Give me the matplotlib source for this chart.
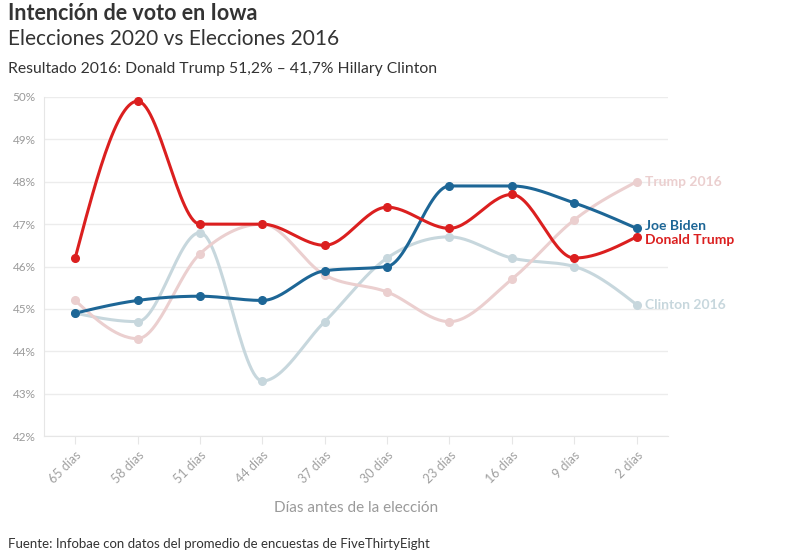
import numpy as np
import matplotlib
matplotlib.use("Agg")
import matplotlib.pyplot as plt

plt.rcParams['font.family'] = ['Lato', 'DejaVu Sans']

dias = ['65 días', '58 días', '51 días', '44 días', '37 días',
        '30 días', '23 días', '16 días', '9 días', '2 días']
trump_2020 = [46.2, 49.9, 47.0, 47.0, 46.5, 47.4, 46.9, 47.7, 46.2, 46.7]
biden_2020 = [44.9, 45.2, 45.3, 45.2, 45.9, 46.0, 47.9, 47.9, 47.5, 46.9]
trump_2016 = [45.2, 44.3, 46.3, 47.0, 45.8, 45.4, 44.7, 45.7, 47.1, 48.0]
clinton_2016 = [44.9, 44.7, 46.8, 43.3, 44.7, 46.2, 46.7, 46.2, 46.0, 45.1]
y_ticks = [42, 43, 44, 45, 46, 47, 48, 49, 50]


def monotone(x, y, n=30):
    # interpolacion monotona (tipo d3 curveMonotoneX)
    x = np.asarray(x, float)
    y = np.asarray(y, float)
    h = np.diff(x)
    s = np.diff(y) / h
    m = np.zeros_like(y)
    for i in range(1, len(y) - 1):
        p = (s[i - 1] * h[i] + s[i] * h[i - 1]) / (h[i - 1] + h[i])
        m[i] = (np.sign(s[i - 1]) + np.sign(s[i])) * min(abs(s[i - 1]), abs(s[i]), 0.5 * abs(p))
    m[0] = (3 * s[0] - m[1]) / 2
    m[-1] = (3 * s[-1] - m[-2]) / 2
    xs, ys = [], []
    for i in range(len(x) - 1):
        t = np.linspace(0, 1, n)
        dx = h[i]
        h00 = 2 * t**3 - 3 * t**2 + 1
        h10 = t**3 - 2 * t**2 + t
        h01 = -2 * t**3 + 3 * t**2
        h11 = t**3 - t**2
        xs.append(x[i] + t * dx)
        ys.append(h00 * y[i] + h10 * dx * m[i] + h01 * y[i + 1] + h11 * dx * m[i + 1])
    return np.concatenate(xs), np.concatenate(ys)


fig = plt.figure(figsize=(8.07, 5.57), dpi=100)
ax = fig.add_axes([0.0545, 0.217, 0.773, 0.609])

x = np.arange(len(dias))
series = [
    (clinton_2016, '#c7d7dd', 'Clinton 2016'),
    (trump_2016, '#ebcfcf', 'Trump 2016'),
    (biden_2020, '#1d6696', 'Joe Biden'),
    (trump_2020, '#db1f1f', 'Donald Trump'),
]
# pequeño ajuste para que las etiquetas finales no se pisen
nudge = {'Joe Biden': 0.05, 'Donald Trump': -0.07}
for vals, col, name in series:
    xs, ys = monotone(x, vals)
    ax.plot(xs, ys, color=col, lw=2.2, solid_capstyle='round', zorder=3)
    ax.plot(x, vals, 'o', color=col, ms=5.5, zorder=4)
    ax.text(x[-1] + 0.13, vals[-1] + nudge.get(name, 0), name, color=col, fontsize=10,
            fontweight='bold', va='center', ha='left', clip_on=False)

ax.set_xlim(-0.5, 9.5)
ax.set_ylim(42, 50)
ax.set_yticks(y_ticks)
ax.set_yticklabels([f'{v}%' for v in y_ticks])
ax.set_xticks(x)
ax.set_xticklabels(dias, rotation=45, ha='right', rotation_mode='anchor')
ax.grid(axis='y', color='#ececec', lw=1)
ax.set_axisbelow(True)
for sp in ['top', 'right']:
    ax.spines[sp].set_visible(False)
ax.spines['left'].set_color('#e6e6e6')
ax.spines['bottom'].set_color('#e6e6e6')
ax.tick_params(axis='y', length=0, colors='#9a9a9a', labelsize=8.5, pad=6)
ax.tick_params(axis='x', length=6, color='#e6e6e6', colors='#a0a0a0', labelsize=9, pad=3)
ax.set_xlabel('Días antes de la elección', color='#9a9a9a', fontsize=11, labelpad=11)

fig.text(0.010, 0.995, 'Intención de voto en Iowa', fontsize=15.5, fontweight='bold',
         color='#333333', va='top')
fig.text(0.010, 0.948, 'Elecciones 2020 vs Elecciones 2016', fontsize=15,
         color='#333333', va='top')
fig.text(0.010, 0.888, 'Resultado 2016: Donald Trump 51,2% – 41,7% Hillary Clinton',
         fontsize=11.3, color='#333333', va='top')
fig.text(0.010, 0.012, 'Fuente: Infobae con datos del promedio de encuestas de FiveThirtyEight',
         fontsize=9.5, color='#333333', va='bottom')

fig.savefig('out.png', dpi=100, facecolor='white')
